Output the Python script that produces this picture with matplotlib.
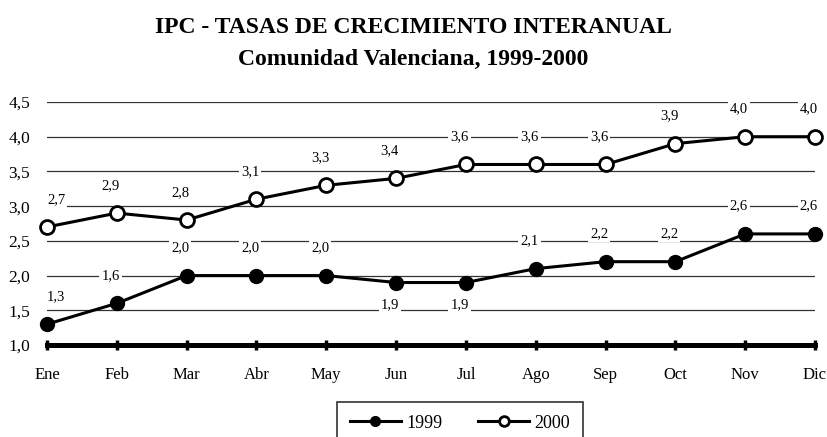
import numpy as np
import matplotlib.pyplot as plt
plt.rcParams['font.family'] = ['Liberation Serif', 'DejaVu Serif']

meses = ['Ene', 'Feb', 'Mar', 'Abr', 'May', 'Jun', 'Jul', 'Ago', 'Sep', 'Oct', 'Nov', 'Dic']
ipc_1999 = [1.3, 1.6, 2.0, 2.0, 2.0, 1.9, 1.9, 2.1, 2.2, 2.2, 2.6, 2.6]
ipc_2000 = [2.7, 2.9, 2.8, 3.1, 3.3, 3.4, 3.6, 3.6, 3.6, 3.9, 4.0, 4.0]
# etiquetas que van debajo del punto (serie 1999)
abajo_1999 = ['Jun', 'Jul']
yticks = [1.0, 1.5, 2.0, 2.5, 3.0, 3.5, 4.0, 4.5]


def fmt(v):
    return ('%.1f' % v).replace('.', ',')


fig = plt.figure(figsize=(8.27, 4.37), dpi=100)
ax = fig.add_axes([0.0568, 0.2105, 0.9287, 0.5561])
x = np.arange(len(meses))

# rejilla
for y in yticks[1:]:
    ax.axhline(y, color='#333333', linewidth=0.9, zorder=1)

ax.plot(x, ipc_1999, color='black', linewidth=2.2, marker='o', markersize=10,
        markerfacecolor='black', markeredgecolor='black', clip_on=False,
        zorder=4, label='1999')
ax.plot(x, ipc_2000, color='black', linewidth=2.2, marker='o', markersize=10,
        markerfacecolor='white', markeredgecolor='black', markeredgewidth=2,
        clip_on=False, zorder=4, label='2000')

caja = dict(facecolor='white', edgecolor='none', pad=1.5)
for i, m in enumerate(meses):
    dx = 6.5 if i == 0 else -4.5
    v = ipc_1999[i]
    dy = -16 if m in abajo_1999 else 20
    ax.annotate(fmt(v), (i, v), xytext=(dx, dy), textcoords='offset points',
                ha='center', va='center', fontsize=10.5, bbox=caja, zorder=3)
    v = ipc_2000[i]
    ax.annotate(fmt(v), (i, v), xytext=(dx, 20), textcoords='offset points',
                ha='center', va='center', fontsize=10.5, bbox=caja, zorder=3)

ax.set_xlim(0, len(meses) - 1)
ax.set_ylim(1.0, 4.5)
ax.set_xticks(x)
ax.set_xticklabels(meses, fontsize=12)
ax.set_yticks(yticks)
ax.set_yticklabels([fmt(v) for v in yticks], fontsize=12.5)
for s in ['top', 'right', 'left']:
    ax.spines[s].set_visible(False)
ax.spines['bottom'].set_linewidth(3.6)
ax.spines['bottom'].set_zorder(5)
ax.tick_params(axis='y', length=0, pad=12)
ax.tick_params(axis='x', direction='inout', length=7, width=2.5, pad=12)

fig.text(0.5, 1 - 33 / 437, 'IPC - TASAS DE CRECIMIENTO INTERANUAL', ha='center',
         va='baseline', fontsize=17, fontweight='bold')
fig.text(0.5, 1 - 65 / 437, 'Comunidad Valenciana, 1999-2000', ha='center',
         va='baseline', fontsize=17, fontweight='bold')

leg = fig.legend(loc='upper center', bbox_to_anchor=(460 / 827, 1 - 402 / 437),
                 ncol=2, fontsize=13, handlelength=2.8, frameon=True,
                 fancybox=False, borderpad=0.7, borderaxespad=0,
                 columnspacing=2.0, handletextpad=0.3)
leg.get_frame().set_edgecolor('black')
leg.get_frame().set_linewidth(1.2)
for h in leg.legend_handles:
    h.set_markersize(7)

fig.savefig('out.png', dpi=100)
